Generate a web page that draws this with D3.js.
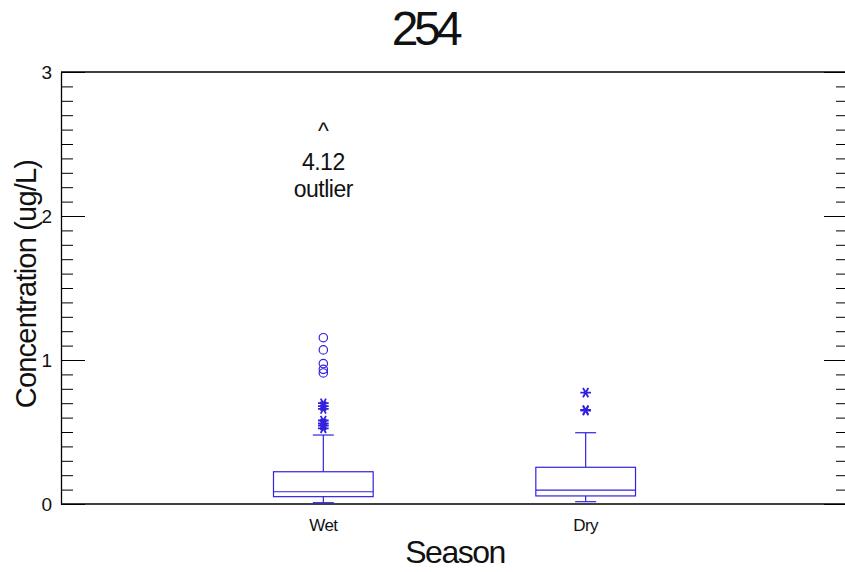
<!DOCTYPE html>
<html>
<head>
<meta charset="utf-8">
<script src="https://d3js.org/d3.v7.min.js"></script>
<style>
  body { margin: 0; background: #fff; }
  svg { display: block; font-family: "Liberation Sans", Arial, sans-serif; }
</style>
</head>
<body>
<svg id="chart" width="845" height="572"></svg>
<script>
// data
const seasons = ["Wet", "Dry"];
const q1 = [0.051, 0.056];
const median = [0.085, 0.097];
const q3 = [0.224, 0.255];
const whiskerLow = [0.009, 0.016];
const whiskerHigh = [0.479, 0.495];
const starOutliers = [
  [0.70, 0.68, 0.66, 0.58, 0.56, 0.545, 0.525],
  [0.773, 0.653, 0.648]
];
const circleOutliers = [
  [1.155, 1.07, 0.975, 0.935, 0.91],
  []
];
const offScale = { season: "Wet", value: "4.12", label: "outlier" };
const yTicks = [0, 1, 2, 3];

const blue = "#3322dd";
const svg = d3.select("#chart");
const pLeft = 61, pRight = 848, pTop = 72, pBottom = 504;

const x = d3.scaleLinear([0, seasons.length + 1], [pLeft, pRight]);
const y = d3.scaleLinear([0, 3], [pBottom, pTop]);
const minor = d3.range(0, 30).map(i => i / 10).filter(v => v % 1 !== 0);

// left axis, ticks pointing inward
svg.append("g")
  .attr("transform", `translate(${pLeft},0)`)
  .call(d3.axisLeft(y).tickValues(yTicks).tickFormat(d3.format("d"))
    .tickSizeInner(-24).tickSizeOuter(0).tickPadding(9))
  .call(g => g.select(".domain").attr("stroke-width", 1.3))
  .call(g => g.selectAll("text").attr("font-size", 19).attr("fill", "#111"));
svg.append("g")
  .attr("transform", `translate(${pLeft},0)`)
  .call(d3.axisLeft(y).tickValues(minor).tickFormat("").tickSizeInner(-12).tickSizeOuter(0))
  .call(g => g.select(".domain").remove());

// right axis
svg.append("g")
  .attr("transform", `translate(${pRight},0)`)
  .call(d3.axisRight(y).tickValues(yTicks).tickFormat("").tickSizeInner(-24).tickSizeOuter(0))
  .call(g => g.select(".domain").remove());
svg.append("g")
  .attr("transform", `translate(${pRight},0)`)
  .call(d3.axisRight(y).tickValues(minor).tickFormat("").tickSizeInner(-12).tickSizeOuter(0))
  .call(g => g.select(".domain").remove());

// top and bottom frame
svg.append("line").attr("x1", pLeft).attr("x2", pRight).attr("y1", y(3)).attr("y2", y(3))
  .attr("stroke", "#000").attr("stroke-width", 1.3);
svg.append("line").attr("x1", pLeft).attr("x2", pRight).attr("y1", y(0)).attr("y2", y(0))
  .attr("stroke", "#000").attr("stroke-width", 1.3);

// x category labels
svg.append("g").selectAll("text").data(seasons).join("text")
  .attr("x", (d, i) => x(i + 1)).attr("y", 531)
  .attr("text-anchor", "middle").attr("font-size", 17).attr("letter-spacing", -0.6)
  .attr("fill", "#111").text(d => d);

// boxes
const bw = 0.19, cw = 0.04;
const boxes = svg.append("g").attr("stroke", blue).attr("fill", "none").attr("stroke-width", 1.2);
seasons.forEach((s, i) => {
  const c = i + 1;
  const g = boxes.append("g");
  g.append("rect")
    .attr("x", x(c - bw)).attr("width", x(c + bw) - x(c - bw))
    .attr("y", y(q3[i])).attr("height", y(q1[i]) - y(q3[i]));
  g.append("line").attr("x1", x(c - bw)).attr("x2", x(c + bw))
    .attr("y1", y(median[i])).attr("y2", y(median[i]));
  g.append("line").attr("x1", x(c)).attr("x2", x(c))
    .attr("y1", y(q3[i])).attr("y2", y(whiskerHigh[i]));
  g.append("line").attr("x1", x(c)).attr("x2", x(c))
    .attr("y1", y(q1[i])).attr("y2", y(whiskerLow[i]));
  g.append("line").attr("x1", x(c - cw)).attr("x2", x(c + cw))
    .attr("y1", y(whiskerHigh[i])).attr("y2", y(whiskerHigh[i]));
  g.append("line").attr("x1", x(c - cw)).attr("x2", x(c + cw))
    .attr("y1", y(whiskerLow[i])).attr("y2", y(whiskerLow[i]));

  g.selectAll("circle").data(circleOutliers[i]).join("circle")
    .attr("cx", x(c)).attr("cy", d => y(d)).attr("r", 4.2);
  g.selectAll("path.star").data(starOutliers[i]).join("path")
    .attr("class", "star")
    .attr("d", d3.symbol(d3.symbolAsterisk, 80))
    .attr("transform", d => `translate(${x(c)},${y(d)}) rotate(90)`)
    .attr("stroke-width", 1.8);
});

// off-scale outlier note
const ox = x(seasons.indexOf(offScale.season) + 1);
const note = svg.append("g").attr("text-anchor", "middle").attr("font-size", 23).attr("fill", "#111");
note.append("text").attr("x", ox).attr("y", 139).text("^");
note.append("text").attr("x", ox).attr("y", 170).attr("letter-spacing", -0.5).text(offScale.value);
note.append("text").attr("x", ox).attr("y", 197).attr("letter-spacing", -0.5).text(offScale.label);

// titles
svg.append("text").attr("x", 425).attr("y", 45).attr("text-anchor", "middle")
  .attr("font-size", 48).attr("letter-spacing", -4.5).attr("fill", "#111").text("254");
svg.append("text").attr("x", 455).attr("y", 563).attr("text-anchor", "middle")
  .attr("font-size", 32).attr("letter-spacing", -1.5).attr("fill", "#111").text("Season");
svg.append("text")
  .attr("transform", `translate(36,${284}) rotate(-90)`)
  .attr("text-anchor", "middle").attr("font-size", 29).attr("letter-spacing", -0.8)
  .attr("fill", "#111").text("Concentration (ug/L)");
</script>
</body>
</html>
